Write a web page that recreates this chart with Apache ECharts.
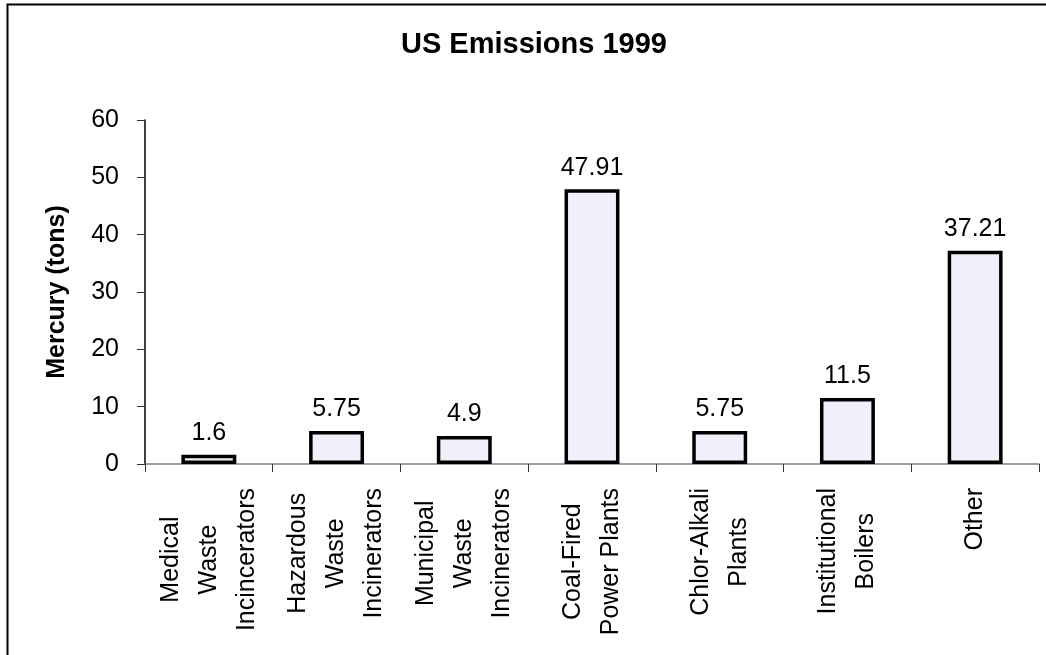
<!DOCTYPE html>
<html>
<head>
<meta charset="utf-8">
<script src="https://cdn.jsdelivr.net/npm/echarts@6/dist/echarts.min.js"></script>
<style>
  html, body { margin: 0; padding: 0; background: #fff; }
  #chart { width: 1046px; height: 655px; }
</style>
</head>
<body>
<div id="chart"></div>
<script>
// categories, split in lines the way the original shows them
var categories = [
  "Medical\nWaste\nIncincerators",
  "Hazardous\nWaste\nIncinerators",
  "Municipal\nWaste\nIncinerators",
  "Coal-Fired\nPower Plants",
  "Chlor-Alkali\nPlants",
  "Institutional\nBoilers",
  "Other"
];
var emissions = [1.6, 5.75, 4.9, 47.91, 5.75, 11.5, 37.21];
var yTicks = [0, 10, 20, 30, 40, 50, 60];

var font = "Liberation Sans, Arial, sans-serif";
var chart = echarts.init(document.getElementById("chart"));

var option = {
  backgroundColor: "#fff",
  animation: false,
  title: {
    text: "US Emissions 1999",
    left: 529,
    top: 25,
    textAlign: "center",
    textStyle: { fontFamily: font, fontSize: 29, fontWeight: "bold", color: "#000" }
  },
  // outer frame of the picture
  graphic: [{
    type: "rect",
    shape: { x: 7.5, y: 4.5, width: 1200, height: 1000 },
    style: { fill: null, stroke: "#000", lineWidth: 2 },
    silent: true
  }],
  grid: { left: 145, right: 7, top: 120, bottom: 191 },
  xAxis: {
    type: "category",
    data: categories,
    axisLine: { lineStyle: { color: "#808080", width: 1.5 } },
    axisTick: { show: true, length: 8, lineStyle: { color: "#333" } },
    axisLabel: {
      interval: 0,
      rotate: 90,
      margin: 24,
      color: "#000",
      fontFamily: font,
      fontSize: 25,
      lineHeight: 38,
      formatter: function (v) {
        return v.split("\n").map(function (s) { return "{c|" + s + "}"; }).join("\n");
      },
      rich: { c: { align: "center", fontFamily: font, fontSize: 25, lineHeight: 38, color: "#000" } }
    }
  },
  yAxis: {
    type: "value",
    min: yTicks[0],
    max: yTicks[yTicks.length - 1],
    interval: 10,
    name: "Mercury (tons)",
    nameLocation: "middle",
    nameRotate: 90,
    nameGap: 75,
    nameTextStyle: { fontFamily: font, fontSize: 25, fontWeight: "bold", color: "#000" },
    axisLine: { show: true, lineStyle: { color: "#000", width: 1.5 } },
    axisTick: { show: true, length: 8, lineStyle: { color: "#333" } },
    splitLine: { show: false },
    axisLabel: { margin: 26, color: "#000", fontFamily: font, fontSize: 25 }
  },
  series: [{
    type: "bar",
    data: emissions,
    barWidth: "43%",
    itemStyle: { color: "#f0f0fa", borderColor: "#000", borderWidth: 3.5 },
    label: {
      show: true,
      position: "top",
      distance: 9,
      color: "#000",
      fontFamily: font,
      fontSize: 25
    }
  }]
};
chart.setOption(option);
</script>
</body>
</html>
